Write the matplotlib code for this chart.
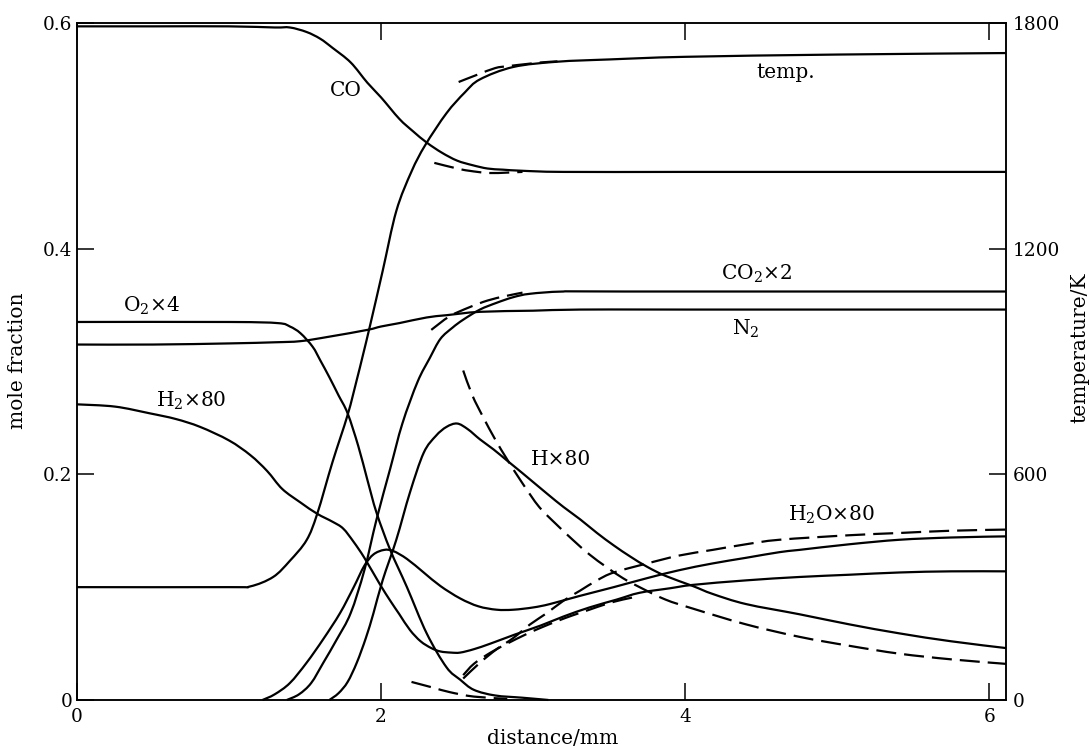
import matplotlib
matplotlib.use("Agg")
import numpy as np
import matplotlib.pyplot as plt
from matplotlib.path import Path
from matplotlib.patches import PathPatch

plt.rcParams["font.family"] = "DejaVu Serif"
plt.rcParams["mathtext.fontset"] = "dejavuserif"

# ---- flame profiles: distance in mm, mole fraction (scaled as labelled) ----
co_x = [0, 0.5, 1.0, 1.3, 1.40, 1.51, 1.60, 1.68, 1.80, 1.91, 2.0, 2.12, 2.21, 2.30,
        2.40, 2.50, 2.60, 2.70, 2.80, 2.93, 3.2, 4.0, 5.0, 6.11]
co_y = [0.597, 0.597, 0.597, 0.596, 0.596, 0.592, 0.586, 0.578, 0.565, 0.547, 0.534,
        0.515, 0.504, 0.494, 0.485, 0.478, 0.474, 0.471, 0.470, 0.469, 0.468, 0.468,
        0.468, 0.468]
co_eq_x = [2.35, 2.50, 2.58, 2.72, 2.93]
co_eq_y = [0.476, 0.471, 0.469, 0.467, 0.468]

temp_x = [0, 1.0, 1.14, 1.29, 1.40, 1.51, 1.58, 1.68, 1.78, 1.84, 1.88, 1.93, 2.01,
          2.10, 2.20, 2.29, 2.43, 2.55, 2.65, 2.87, 3.16, 3.5, 4.0, 5.0, 6.11]
temp_k = [300, 300, 302, 327, 370, 425, 495, 632, 758, 851, 916, 1000, 1140,
          1300, 1405, 1475, 1560, 1615, 1650, 1683, 1697, 1703, 1710, 1716, 1720]
temp_eq_x = [2.51, 2.63, 2.75, 2.83, 2.96, 3.05, 3.16]
temp_eq_k = [1643, 1662, 1680, 1685, 1691, 1695, 1698]

o2_x = [0, 1.0, 1.32, 1.40, 1.47, 1.55, 1.60, 1.66, 1.72, 1.78, 1.85, 1.91, 1.97,
        2.06, 2.17, 2.30, 2.43, 2.52, 2.61, 2.75, 2.93, 3.1]
o2_y = [0.335, 0.335, 0.334, 0.331, 0.325, 0.313, 0.301, 0.286, 0.270, 0.254, 0.225,
        0.195, 0.166, 0.133, 0.100, 0.059, 0.029, 0.018, 0.009, 0.004, 0.002, 0.0]
o2_eq_x = [2.20, 2.34, 2.45, 2.61, 2.83]
o2_eq_y = [0.016, 0.011, 0.007, 0.003, 0.001]

n2_x = [0, 0.5, 1.0, 1.3, 1.47, 1.66, 1.91, 2.0, 2.12, 2.3, 2.43, 2.65, 3.0, 3.31, 4.0, 6.11]
n2_y = [0.315, 0.315, 0.316, 0.317, 0.318, 0.322, 0.328, 0.331, 0.334, 0.339, 0.341,
        0.344, 0.345, 0.346, 0.346, 0.346]

co2_x = [1.38, 1.46, 1.54, 1.62, 1.71, 1.80, 1.89, 1.97, 2.06, 2.14, 2.24, 2.32, 2.39,
         2.47, 2.54, 2.65, 2.76, 2.87, 2.98, 3.2, 3.6, 6.11]
co2_y = [0.0, 0.005, 0.015, 0.033, 0.054, 0.077, 0.115, 0.160, 0.205, 0.245, 0.282,
         0.303, 0.320, 0.330, 0.337, 0.346, 0.352, 0.357, 0.360, 0.362, 0.362, 0.362]
co2_eq_x = [2.33, 2.45, 2.58, 2.70, 2.82, 2.93]
co2_eq_y = [0.328, 0.340, 0.348, 0.354, 0.358, 0.361]

h_x = [1.66, 1.72, 1.78, 1.84, 1.90, 1.95, 2.01, 2.10, 2.19, 2.28, 2.36, 2.43, 2.50,
       2.57, 2.65, 2.74, 2.83, 2.93, 3.09, 3.20, 3.31, 3.42, 3.53, 3.64, 3.75, 3.87,
       4.05, 4.18, 4.4, 4.75, 5.08, 5.41, 5.75, 6.11]
h_y = [0.0, 0.006, 0.016, 0.033, 0.055, 0.077, 0.106, 0.142, 0.184, 0.219, 0.234,
       0.242, 0.245, 0.240, 0.231, 0.222, 0.212, 0.201, 0.183, 0.171, 0.160, 0.148,
       0.137, 0.127, 0.118, 0.110, 0.101, 0.094, 0.085, 0.076, 0.067, 0.059, 0.052, 0.046]
h_eq_x = [2.54, 2.60, 2.67, 2.75, 2.83, 2.93, 3.04, 3.15, 3.26, 3.37, 3.48, 3.59,
          3.70, 3.87, 4.05, 4.4, 4.75, 5.08, 5.41, 5.75, 6.11]
h_eq_y = [0.292, 0.270, 0.251, 0.231, 0.213, 0.192, 0.171, 0.156, 0.142, 0.129,
          0.118, 0.108, 0.100, 0.089, 0.081, 0.067, 0.056, 0.048, 0.041, 0.036, 0.032]

h2_x = [0, 0.25, 0.48, 0.65, 0.81, 1.0, 1.14, 1.25, 1.35, 1.47, 1.58, 1.68, 1.75, 1.82,
        1.89, 1.99, 2.06, 2.12, 2.19, 2.26, 2.33, 2.39, 2.46, 2.52, 2.61, 2.72, 2.88,
        3.05, 3.2, 3.37, 3.55, 3.70, 3.9, 4.05, 4.4, 4.75, 5.08, 5.41, 5.75, 6.11]
h2_y = [0.262, 0.260, 0.254, 0.249, 0.242, 0.230, 0.217, 0.203, 0.187, 0.175, 0.165,
        0.158, 0.152, 0.140, 0.126, 0.103, 0.088, 0.076, 0.062, 0.052, 0.046, 0.043,
        0.042, 0.042, 0.045, 0.050, 0.058, 0.066, 0.074, 0.082, 0.089, 0.095, 0.099,
        0.102, 0.106, 0.109, 0.111, 0.113, 0.114, 0.114]
h2_eq_x = [2.54, 2.61, 2.72, 2.83, 2.95, 3.05, 3.16, 3.26, 3.37, 3.48, 3.59, 3.70]
h2_eq_y = [0.022, 0.032, 0.042, 0.050, 0.058, 0.064, 0.070, 0.075, 0.080, 0.085, 0.089, 0.092]

h2o_x = [1.22, 1.30, 1.40, 1.51, 1.62, 1.73, 1.82, 1.89, 1.95, 2.02, 2.08, 2.17, 2.28,
         2.39, 2.52, 2.64, 2.76, 2.87, 3.0, 3.11, 3.30, 3.53, 3.75, 3.96, 4.18, 4.4,
         4.62, 4.75, 5.08, 5.41, 5.75, 6.11]
h2o_y = [0.0, 0.005, 0.015, 0.033, 0.054, 0.077, 0.100, 0.119, 0.129, 0.133, 0.132,
         0.125, 0.113, 0.101, 0.090, 0.083, 0.080, 0.080, 0.082, 0.085, 0.092, 0.100,
         0.108, 0.115, 0.121, 0.126, 0.131, 0.133, 0.138, 0.142, 0.144, 0.145]
h2o_eq_x = [2.54, 2.65, 2.76, 2.87, 2.98, 3.09, 3.20, 3.31, 3.42, 3.53, 3.75, 3.96,
            4.18, 4.4, 4.62, 5.08, 5.41, 5.75, 6.11]
h2o_eq_y = [0.019, 0.033, 0.045, 0.055, 0.067, 0.077, 0.088, 0.097, 0.106, 0.113,
            0.121, 0.128, 0.133, 0.138, 0.142, 0.146, 0.148, 0.150, 0.151]

LW = 1.6
DASH = (0, (9.0, 3.6))

fig = plt.figure(figsize=(10.89, 7.48), dpi=100)
ax = fig.add_axes([0.0707, 0.0642, 0.8531, 0.9051])
ax2 = ax.twinx()


def trace(a, x, y, dashed=False):
    # smooth Catmull-Rom style curve through the read points, drawn as Bezier path
    p = np.column_stack([x, y]).astype(float)
    ext = np.vstack([p[0], p, p[-1]])
    verts = [p[0]]
    codes = [Path.MOVETO]
    for i in range(1, len(ext) - 2):
        p0, p1, p2, p3 = ext[i - 1], ext[i], ext[i + 1], ext[i + 2]
        verts += [p1 + (p2 - p0) / 6, p2 - (p3 - p1) / 6, p2]
        codes += [Path.CURVE4] * 3
    patch = PathPatch(Path(verts, codes), fill=False, edgecolor="black", lw=LW,
                      ls=DASH if dashed else "-", capstyle="butt", joinstyle="round",
                      transform=a.transData, clip_on=False)
    a.add_patch(patch)


for x, y in [(co_x, co_y), (o2_x, o2_y), (n2_x, n2_y), (co2_x, co2_y),
             (h_x, h_y), (h2_x, h2_y), (h2o_x, h2o_y)]:
    trace(ax, x, y)
for x, y in [(co_eq_x, co_eq_y), (o2_eq_x, o2_eq_y), (co2_eq_x, co2_eq_y),
             (h_eq_x, h_eq_y), (h2_eq_x, h2_eq_y), (h2o_eq_x, h2o_eq_y)]:
    trace(ax, x, y, dashed=True)
trace(ax2, temp_x, temp_k)
trace(ax2, temp_eq_x, temp_eq_k, dashed=True)

ax.set_xlim(0, 6.11)
ax.set_ylim(0, 0.6)
ax.set_xticks([0, 2, 4, 6])
ax.set_yticks([0, 0.2, 0.4, 0.6])
ax.set_yticklabels(["0", "0.2", "0.4", "0.6"])
ax.tick_params(direction="in", length=12, width=1.1, labelsize=13.3,
               top=True, right=False)
ax.tick_params(axis="x", pad=6)
ax.tick_params(axis="y", pad=3.5)

ax2.set_ylim(0, 1800)
ax2.set_yticks([0, 600, 1200, 1800])
ax2.tick_params(direction="in", length=12, width=1.1, labelsize=13.3, pad=5)

for a in (ax, ax2):
    for s in a.spines.values():
        s.set_linewidth(1.1)

lab = dict(fontsize=14.5, ha="center", va="center")
ax.text(1.77, 0.540, "CO", **lab)
ax.text(4.66, 0.556, "temp.", **lab)
ax.text(4.47, 0.378, r"CO$_2$×2", **lab)
ax.text(4.40, 0.329, r"N$_2$", **lab)
ax.text(0.49, 0.349, r"O$_2$×4", **lab)
ax.text(0.75, 0.265, r"H$_2$×80", **lab)
ax.text(3.18, 0.213, "H×80", **lab)
ax.text(4.96, 0.164, r"H$_2$O×80", **lab)

fig.text(553 / 1089, 1 - 738 / 748, "distance/mm", **lab)
fig.text(18 / 1089, 1 - 361 / 748, "mole fraction", rotation=90, **lab)
fig.text(1080 / 1089, 1 - 348 / 748, "temperature/K", rotation=90, **lab)

fig.savefig("out.png", dpi=100)
